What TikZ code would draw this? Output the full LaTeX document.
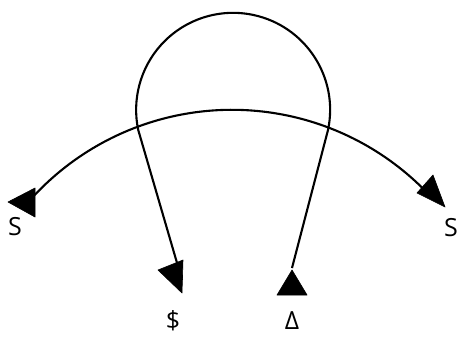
\documentclass[tikz,border=0pt]{standalone}
\usepackage{fontspec}
\setmainfont{Open Sans}
\begin{document}
\begin{tikzpicture}[x=1pt,y=1pt,
  curve/.style={line width=2.1pt,black},
  head/.style={fill=black,draw=black,line width=0.6pt,line join=round},
  lbl/.style={font=\fontsize{25pt}{30pt}\selectfont,inner sep=0pt}]
\useasboundingbox[fill=white] (0,0) rectangle (458,338);
% big arc
\coordinate (c1) at (232,-42.8);
\draw[curve] (c1) ++(138:271) coordinate (aL) arc[start angle=138,end angle=42,radius=271] coordinate (aR);
% arrowheads of the big arc
\fill[head] (8,136) -- (35,150) -- (35,121) -- cycle;
\fill[head] (417,145) -- (433,163) -- (445,131) -- cycle;
% loop
\coordinate (lR) at (292,70);
\coordinate (lL) at (182,58);
\draw[curve] (lR) -- (328,208) arc[start angle=-12,end angle=192,radius=97] -- (lL);
\fill[head] (158,68) -- (183,78) -- (182,45) -- cycle;
\fill[head] (277,43) -- (307,43) -- (292,68) -- cycle;
% labels
\node[lbl] (sL) at (15,111) {S};
\node[lbl] (sR) at (451,110) {S};
\node[lbl] (dol) at (173,17) {\$};
\node[lbl] (del) at (292,17) {Δ};
\end{tikzpicture}
\end{document}
